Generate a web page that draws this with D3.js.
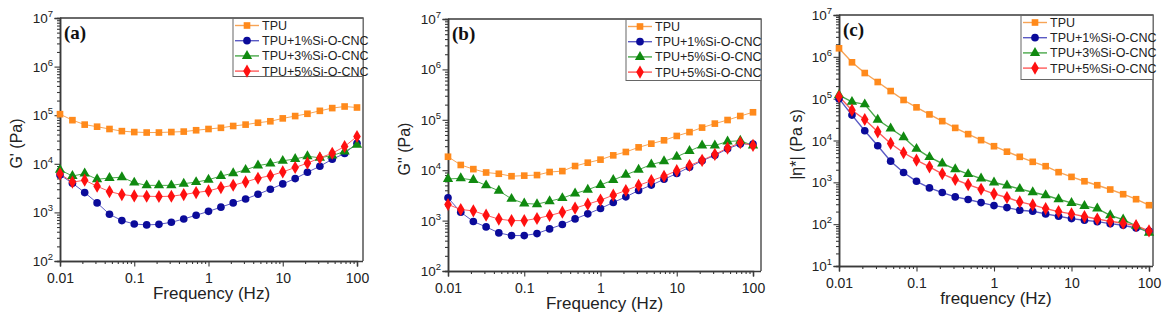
<!DOCTYPE html>
<html><head><meta charset="utf-8">
<script src="https://cdn.jsdelivr.net/npm/d3@7"></script>
<style>body{margin:0;background:#fff}svg{display:block}</style>
</head><body>
<svg id="c" width="1170" height="322"></svg>
<script>
const freq = [0.01,0.0147,0.0215,0.0316,0.0464,0.0681,0.1,0.147,0.215,0.316,0.464,0.681,1,1.47,2.15,3.16,4.64,6.81,10,14.7,21.5,31.6,46.4,68.1,100];
const xTicks = [0.01,0.1,1,10,100];
const xTickLabels = ["0.01","0.1","1","10","100"];

// (a) storage modulus G'
const gp_TPU = [1.05e5,7.9e4,6.4e4,5.8e4,5.2e4,4.7e4,4.5e4,4.4e4,4.4e4,4.5e4,4.6e4,4.9e4,5.2e4,5.5e4,6.0e4,6.4e4,7.0e4,7.5e4,8.6e4,9.6e4,1.07e5,1.23e5,1.4e5,1.51e5,1.44e5];
const gp_1 = [5.9e3,4.0e3,2.56e3,1.57e3,916,679,578,552,569,626,733,873,1050,1280,1570,1890,2360,3000,3860,4970,6700,8900,1.24e4,1.63e4,2.65e4];
const gp_3 = [7.5e3,5.6e3,6.3e3,4.8e3,5.1e3,5.3e3,4.1e3,3.6e3,3.6e3,3.6e3,3.9e3,4.2e3,4.7e3,5.6e3,6.4e3,7.5e3,9.2e3,1.01e4,1.15e4,1.26e4,1.43e4,1.33e4,1.48e4,1.79e4,2.45e4];
const gp_5 = [6.2e3,4.2e3,4.6e3,3.45e3,2.68e3,2.33e3,2.18e3,2.15e3,2.12e3,2.15e3,2.33e3,2.56e3,2.77e3,3.24e3,3.62e3,4.24e3,5.05e3,5.7e3,6.8e3,8.4e3,1.03e4,1.32e4,1.65e4,2.27e4,3.65e4];

// (b) loss modulus G''
const gpp_TPU = [1.85e4,1.27e4,1.05e4,9.0e3,8.5e3,7.6e3,7.8e3,8.0e3,9.2e3,9.6e3,1.21e4,1.41e4,1.62e4,1.97e4,2.3e4,2.84e4,3.36e4,3.92e4,4.78e4,5.7e4,7.0e4,8.4e4,9.9e4,1.19e5,1.41e5];
const gpp_1 = [2.83e3,1.47e3,958,750,570,505,505,553,685,836,1080,1360,1740,2290,2960,3960,5060,6600,8600,1.15e4,1.54e4,1.97e4,2.67e4,3.31e4,3.31e4];
const gpp_5g = [6.7e3,6.9e3,6.4e3,5.0e3,3.9e3,2.7e3,2.19e3,2.12e3,2.43e3,2.79e3,3.45e3,4.1e3,5.1e3,6.4e3,8.1e3,1.02e4,1.3e4,1.5e4,1.85e4,2.4e4,3.1e4,3.1e4,3.7e4,3.85e4,3.1e4];
const gpp_5r = [2.09e3,1.66e3,1.56e3,1.28e3,1.07e3,1.0e3,1.0e3,1.1e3,1.26e3,1.47e3,1.77e3,2.12e3,2.55e3,3.2e3,3.96e3,4.99e3,6.2e3,7.6e3,9.8e3,1.24e4,1.57e4,2.06e4,2.75e4,3.52e4,3.1e4];

// (c) complex viscosity |eta*|
const eta_TPU = [1.6e6,7.4e5,4.1e5,2.5e5,1.52e5,9.3e4,6.2e4,4.2e4,2.9e4,2.0e4,1.42e4,1.02e4,7.3e3,5.4e3,4.07e3,3.09e3,2.43e3,1.75e3,1.35e3,1.06e3,853,673,520,395,284];
const eta_1 = [1.0e5,4.05e4,1.71e4,7.5e3,3.2e3,1.72e3,1.06e3,737,570,449,388,328,278,249,215,204,176,155,136,124,115,103,94,81,68];
const eta_3 = [1.22e5,8.4e4,7.3e4,3.13e4,1.94e4,1.2e4,6.3e3,4.0e3,2.82e3,2.06e3,1.57e3,1.23e3,989,838,698,580,492,395,322,273,236,163,129,91,62];
const eta_5 = [1.12e5,5.3e4,3.18e4,1.61e4,8.5e3,5.1e3,3.39e3,2.35e3,1.6e3,1.17e3,885,685,530,433,341,289,236,200,176,152,133,117,105,92,69];

const legendA = ["TPU","TPU+1%Si-O-CNC","TPU+3%Si-O-CNC","TPU+5%Si-O-CNC"];
const legendB = ["TPU","TPU+1%Si-O-CNC","TPU+5%Si-O-CNC","TPU+5%Si-O-CNC"];
const legendC = ["TPU","TPU+1%Si-O-CNC","TPU+3%Si-O-CNC","TPU+5%Si-O-CNC"];

const styles = [
  {marker:"square", fill:"#ff8a1c", line:"#f7a456"},
  {marker:"circle", fill:"#0b0b9a", line:"#5a5ac4"},
  {marker:"triangle", fill:"#108a10", line:"#4aa84a"},
  {marker:"diamond", fill:"#ff1010", line:"#ff5a5a"}
];

const svg = d3.select("#c");
const axisColor = "#3a3a3a";

function symbolFor(m){
  if(m==="square") return d3.symbol().type(d3.symbolSquare).size(44);
  if(m==="circle") return d3.symbol().type(d3.symbolCircle).size(46);
  if(m==="triangle") return d3.symbol().type(d3.symbolTriangle).size(46);
  return d3.symbol().type(d3.symbolDiamond).size(50);
}

function panel(cfg){
  const g = svg.append("g");
  const x = d3.scaleLog().domain([0.01,100]).range([cfg.x0,cfg.x1]);
  const y = d3.scaleLog().domain(cfg.yDomain).range([cfg.y0,cfg.y1]);
  const right = cfg.x1 + cfg.pad;

  // frame (top and right)
  g.append("path").attr("d",`M${cfg.x0},${cfg.y1}H${right}V${cfg.y0}`)
    .attr("fill","none").attr("stroke",axisColor).attr("stroke-width",1.3);

  // x axis
  const xMinor = [];
  for(let d=-2; d<2; d++) for(let k=2;k<10;k++) xMinor.push(k*Math.pow(10,d));
  const xa = g.append("g").attr("transform",`translate(0,${cfg.y0})`);
  xa.call(d3.axisBottom(x).tickValues(xMinor).tickSize(3).tickFormat(""));
  xa.append("g").call(d3.axisBottom(x).tickValues(xTicks).tickSize(5.5).tickFormat((d,i)=>xTickLabels[i]));
  xa.selectAll(".domain").attr("stroke",axisColor).attr("stroke-width",1.5);
  xa.select(".domain").attr("d",`M${cfg.x0},0.5H${right}`);
  xa.selectAll("line").attr("stroke",axisColor).attr("stroke-width",1.1);
  xa.selectAll("text").attr("font-family","Arial, 'Liberation Sans', sans-serif").attr("font-size",14).attr("fill","#222").attr("dy","0.95em");

  // y axis
  const [lo,hi] = cfg.yDomain;
  const yMajor = [], yMinor = [];
  for(let e=Math.log10(lo); e<=Math.log10(hi); e++){ yMajor.push(Math.pow(10,e)); if(e<Math.log10(hi)) for(let k=2;k<10;k++) yMinor.push(k*Math.pow(10,e)); }
  const ya = g.append("g").attr("transform",`translate(${cfg.x0},0)`);
  ya.call(d3.axisLeft(y).tickValues(yMinor).tickSize(3).tickFormat(""));
  ya.append("g").call(d3.axisLeft(y).tickValues(yMajor).tickSize(5.5).tickFormat(""));
  ya.selectAll(".domain").attr("stroke",axisColor).attr("stroke-width",1.5);
  ya.selectAll("line").attr("stroke",axisColor).attr("stroke-width",1.1);
  yMajor.forEach(v=>{
    const t = g.append("text").attr("x",cfg.x0-7).attr("y",y(v)+5)
      .attr("text-anchor","end").attr("font-family","Arial, 'Liberation Sans', sans-serif")
      .attr("font-size",13.5).attr("fill","#222");
    t.append("tspan").text("10");
    t.append("tspan").attr("font-size",9.5).attr("dy",-6).text(String(Math.round(Math.log10(v))));
  });

  // axis titles
  g.append("text").attr("x",(cfg.x0+right)/2).attr("y",cfg.y0+38).attr("text-anchor","middle")
    .attr("font-family","Arial, 'Liberation Sans', sans-serif").attr("font-size",17).attr("fill","#222").text(cfg.xTitle);
  g.append("text").attr("transform",`translate(${cfg.yTitleX},${(cfg.y0+cfg.y1)/2+4}) rotate(-90)`).attr("text-anchor","middle")
    .attr("font-family","Arial, 'Liberation Sans', sans-serif").attr("font-size",16).attr("fill","#222").text(cfg.yTitle);

  // panel letter
  g.append("text").attr("x",cfg.x0+4).attr("y",cfg.y1+21).attr("font-family","'Times New Roman','Liberation Serif',serif")
    .attr("font-weight","bold").attr("font-size",19).attr("fill","#111").text(cfg.letter);

  // series
  const line = d3.line().x((d,i)=>x(freq[i])).y(d=>y(d));
  cfg.series.forEach((s,si)=>{
    const st = styles[si];
    g.append("path").datum(s).attr("d",line).attr("fill","none").attr("stroke",st.line).attr("stroke-width",cfg.lw);
  });
  cfg.series.forEach((s,si)=>{
    const st = styles[si];
    g.append("g").selectAll("path").data(s).join("path")
      .attr("transform",(d,i)=>`translate(${x(freq[i])},${y(d)})`)
      .attr("d",symbolFor(st.marker)()).attr("fill",st.fill);
  });

  // legend
  const lg = g.append("g");
  lg.append("rect").attr("x",cfg.lx).attr("y",cfg.y1+0.5).attr("width",right-cfg.lx).attr("height",cfg.lh)
    .attr("fill","#fff").attr("stroke","#666").attr("stroke-width",1);
  cfg.legend.forEach((name,i)=>{
    const st = styles[i];
    const ry = cfg.y1 + 7.5 + i*15.2;
    lg.append("line").attr("x1",cfg.lx+2).attr("x2",cfg.lx+26).attr("y1",ry).attr("y2",ry).attr("stroke",st.line).attr("stroke-width",1.4);
    lg.append("path").attr("transform",`translate(${cfg.lx+14},${ry})`).attr("d",symbolFor(st.marker)()).attr("fill",st.fill);
    lg.append("text").attr("x",cfg.lx+29).attr("y",ry+4.5).attr("font-family","Arial, 'Liberation Sans', sans-serif")
      .attr("font-size",12.5).attr("fill","#222").text(name);
  });
}

panel({x0:60,x1:357,pad:6,y0:261,y1:18,yDomain:[1e2,1e7],xTitle:"Frequency (Hz)",yTitle:"G' (Pa)",yTitleX:22,
  letter:"(a)",series:[gp_TPU,gp_1,gp_3,gp_5],legend:legendA,lx:233,lh:58,lw:1});
panel({x0:448,x1:753,pad:8,y0:271,y1:19,yDomain:[1e2,1e7],xTitle:"Frequency (Hz)",yTitle:'G" (Pa)',yTitleX:410,
  letter:"(b)",series:[gpp_TPU,gpp_1,gpp_5g,gpp_5r],legend:legendB,lx:626,lh:61,lw:1});
panel({x0:839,x1:1149,pad:4,y0:266,y1:15,yDomain:[1e1,1e7],xTitle:"frequency (Hz)",yTitle:"|η*| (Pa s)",yTitleX:802,
  letter:"(c)",series:[eta_TPU,eta_1,eta_3,eta_5],legend:legendC,lx:1021,lh:64,lw:1.4});
</script>
</body></html>
